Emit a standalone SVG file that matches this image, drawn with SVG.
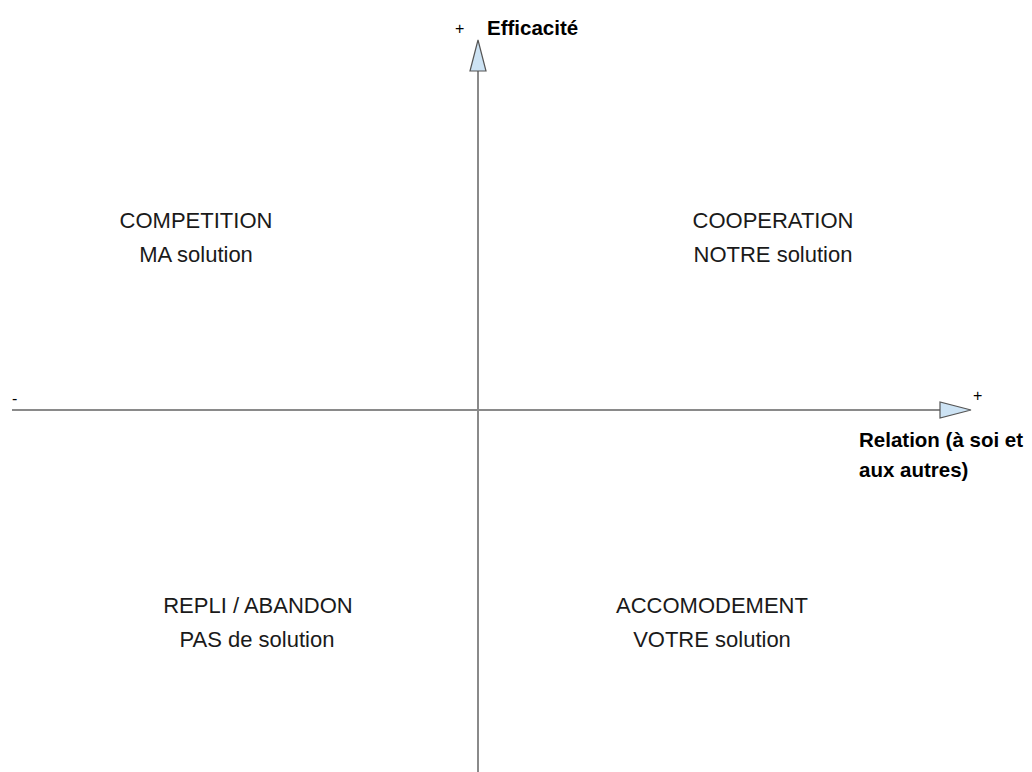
<svg xmlns="http://www.w3.org/2000/svg" width="1032" height="772" viewBox="0 0 1032 772">
<style>
.q{font-family:"Liberation Sans",Arial,sans-serif;font-size:22px;fill:#1a1a1a;text-anchor:middle}
.b{font-family:"Liberation Sans",Arial,sans-serif;font-size:20.5px;font-weight:bold;fill:#000}
.s{font-family:"Liberation Sans",Arial,sans-serif;font-size:16px;fill:#000}
.axis{stroke:#8a8a8a;stroke-width:2;fill:none}
.head{fill:#cde3f4;stroke:#555;stroke-width:1.2}
</style>
<rect width="1032" height="772" fill="#fff"/>
<g id="connectors">
<line class="axis" x1="478" y1="70" x2="478" y2="772"/>
<polygon class="head" points="478,40 470,71 486,71"/>
<line class="axis" x1="12" y1="410" x2="940" y2="410"/>
<polygon class="head" points="971,410 940,402 940,418"/>
</g>
<g id="axis-labels">
<text class="s" x="455" y="34">+</text>
<text class="b" x="487" y="35">Efficacité</text>
<text class="s" x="973" y="401">+</text>
<text class="b" x="859" y="447">Relation (à soi et</text>
<text class="b" x="859" y="477">aux autres)</text>
<text class="s" x="12" y="404">-</text>
</g>
<g id="competition"><text class="q" x="196" y="228">COMPETITION</text><text class="q" x="196" y="262">MA solution</text></g>
<g id="cooperation"><text class="q" x="773" y="228">COOPERATION</text><text class="q" x="773" y="262">NOTRE solution</text></g>
<g id="repli"><text class="q" x="258" y="613">REPLI / ABANDON</text><text class="q" x="257" y="647">PAS de solution</text></g>
<g id="accomodement"><text class="q" x="712" y="613">ACCOMODEMENT</text><text class="q" x="712" y="647">VOTRE solution</text></g>
</svg>
